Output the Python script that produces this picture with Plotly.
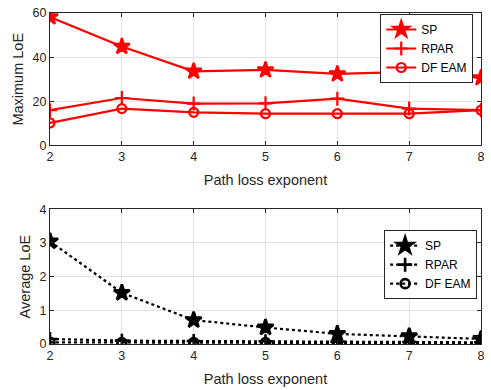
import plotly.graph_objects as go
from plotly.subplots import make_subplots

x = [2, 3, 4, 5, 6, 7, 8]
max_sp = [58.2, 44.8, 33.6, 34.2, 32.4, 33.3, 30.6]
max_rpar = [16.0, 21.5, 19.0, 19.1, 21.2, 16.7, 16.0]
max_df = [10.2, 16.7, 15.0, 14.4, 14.4, 14.4, 16.0]
avg_sp = [3.05, 1.52, 0.71, 0.49, 0.30, 0.23, 0.15]
avg_rpar = [0.15, 0.10, 0.09, 0.08, 0.07, 0.06, 0.05]
avg_df = [0.05, 0.04, 0.04, 0.04, 0.03, 0.03, 0.03]
names = ["SP", "RPAR", "DF EAM"]

FONT = "Liberation Sans, Arial"
TXT = "#262626"

fig = make_subplots(rows=2, cols=1)
red = "#ff0000"
sym = ["star", "cross-thin", "circle-open"]
sizes = [12, 10, 9]
for ys, nm, s, sz in zip([max_sp, max_rpar, max_df], names, sym, sizes):
    fig.add_trace(go.Scatter(x=x, y=ys, name=nm, mode="lines+markers",
                             line=dict(color=red, width=2.2),
                             marker=dict(symbol=s, size=sz, color=red,
                                         line=dict(color=red, width=2.2)),
                             legend="legend"), row=1, col=1)
for ys, nm, s, sz in zip([avg_sp, avg_rpar, avg_df], names, sym, sizes):
    fig.add_trace(go.Scatter(x=x, y=ys, name=nm, mode="lines+markers",
                             line=dict(color="black", width=2.2, dash="dot"),
                             marker=dict(symbol=s, size=sz, color="black",
                                         line=dict(color="black", width=2.6)),
                             legend="legend2"), row=2, col=1)

axcommon = dict(showline=True, mirror="allticks", linecolor=TXT, linewidth=1,
                ticks="inside", ticklen=4, tickcolor=TXT,
                showgrid=True, gridcolor="#e3e3e3", gridwidth=1, zeroline=False,
                tickfont=dict(family=FONT, size=12.5, color=TXT))
titlefont = dict(family=FONT, size=14.5, color=TXT)
fig.update_xaxes(range=[2, 8], dtick=1, title=dict(text="Path loss exponent", standoff=11,
                 font=titlefont), **axcommon)
fig.update_yaxes(**axcommon)
fig.update_yaxes(range=[0, 60], dtick=20, title=dict(text="Maximum LoE", standoff=5,
                 font=titlefont), row=1, col=1)
fig.update_yaxes(range=[0, 4], dtick=1, title=dict(text="Average LoE", standoff=5,
                 font=titlefont), row=2, col=1)
fig.update_layout(xaxis_domain=[0, 1], xaxis2_domain=[0, 1],
                  yaxis_domain=[0.5997, 1], yaxis2_domain=[0, 0.407])

legfont = dict(family=FONT, size=12, color="black")
fig.update_layout(
    width=491, height=390,
    margin=dict(l=50, r=6, t=13, b=43),
    paper_bgcolor="white", plot_bgcolor="white",
    legend=dict(x=0.982, y=0.997, xanchor="right", yanchor="top", bordercolor=TXT,
                borderwidth=1, bgcolor="white", font=legfont, tracegroupgap=0,
                itemwidth=30),
    legend2=dict(x=0.991, y=0.344, xref="paper", yref="paper", xanchor="right", yanchor="top",
                 bordercolor=TXT, borderwidth=1, bgcolor="white", font=legfont,
                 itemwidth=30),
)
fig.write_html("out.html")
